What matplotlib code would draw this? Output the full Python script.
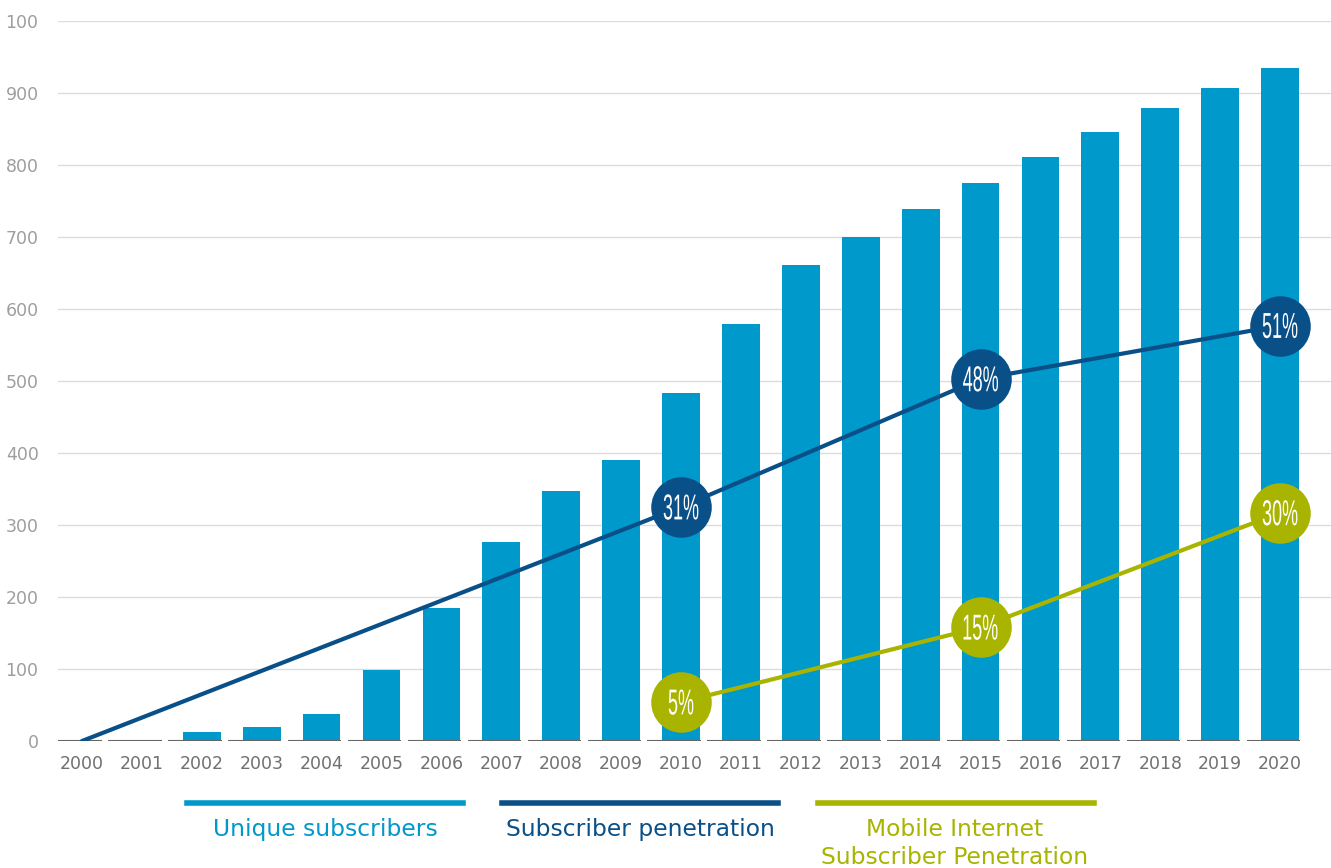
import numpy as np
import matplotlib.pyplot as plt
import matplotlib.transforms as mtransforms
from matplotlib.lines import Line2D
from matplotlib.textpath import TextPath
from matplotlib.patches import PathPatch
from matplotlib.font_manager import FontProperties

# --- Data ---
years = [str(y) for y in range(2000, 2021)]
subscribers = [1, 1, 12, 19, 37, 98, 185, 276, 347, 390, 483,
               579, 661, 700, 739, 775, 811, 846, 879, 907, 935]

# penetration lines (drawn on the chart's own vertical scale)
pen_years = [0, 10, 15, 20]
pen_pos = [0, 325, 503, 577]
pen_labels = [None, "31%", "48%", "51%"]

mob_years = [10, 15, 20]
mob_pos = [54, 158, 317]
mob_labels = ["5%", "15%", "30%"]

yticks = [0, 100, 200, 300, 400, 500, 600, 700, 800, 900, 1000]
ytick_labels = ["0", "100", "200", "300", "400", "500", "600", "700", "800", "900", "100"]

# --- Colours ---
c_bar = "#0099cc"
c_pen = "#0a5088"
c_mob = "#a8b400"

fig = plt.figure(figsize=(13.31, 8.68), dpi=100)
ax = fig.add_axes([0.0436, 0.1463, 0.9564, 0.8295])

x = np.arange(len(years))
ax.bar(x, subscribers, width=0.63, color=c_bar, zorder=2)

# baseline segments under each category
ax.hlines([0] * len(x), x - 0.56, x + 0.33, color="#666666", linewidth=1.5, zorder=3)


def bubble_text(xv, yv, s):
    # condensed label: text path squeezed horizontally
    tp = TextPath((0, 0), s, size=36, prop=FontProperties(family="Liberation Sans"))
    bb = tp.get_extents()
    tr = (mtransforms.Affine2D()
          .translate(-(bb.x0 + bb.x1) / 2, -(bb.y0 + bb.y1) / 2)
          .scale(0.5, 1.0)
          + mtransforms.ScaledTranslation(xv, yv, ax.transData))
    p = PathPatch(tp, transform=tr, facecolor="white", linewidth=0, zorder=6)
    p.set_clip_on(False)
    ax.add_artist(p)


# penetration lines + bubbles
ax.plot(pen_years, pen_pos, color=c_pen, linewidth=3, zorder=4, solid_capstyle="round")
ax.plot(mob_years, mob_pos, color=c_mob, linewidth=3, zorder=4, solid_capstyle="round")

for xi, yi, lab in zip(pen_years, pen_pos, pen_labels):
    if lab:
        ax.scatter(xi, yi, s=1900, color=c_pen, zorder=5, linewidths=0)
        bubble_text(xi, yi, lab)
for xi, yi, lab in zip(mob_years, mob_pos, mob_labels):
    ax.scatter(xi, yi, s=1900, color=c_mob, zorder=5, linewidths=0)
    bubble_text(xi, yi, lab)

# --- Axes styling ---
ax.set_xlim(-0.4, 20.85)
ax.set_ylim(0, 1000)
ax.set_xticks(x)
ax.set_xticklabels(years)
ax.set_yticks(yticks)
ax.set_yticklabels(ytick_labels)
ax.tick_params(axis="both", length=0, labelsize=12.5)
ax.tick_params(axis="y", pad=14, labelcolor="#9e9e9e")
ax.tick_params(axis="x", pad=10, labelcolor="#707070")
for g in yticks[1:]:
    ax.axhline(g, color="#dcdcdc", linewidth=1, zorder=1)
for s in ax.spines.values():
    s.set_visible(False)

# --- Legend below ---
legend_items = [
    (0.1405, 0.3478, 0.2442, c_bar, "Unique subscribers"),
    (0.3772, 0.5845, 0.4809, c_pen, "Subscriber penetration"),
    (0.6146, 0.8219, 0.7175, c_mob, "Mobile Internet\nSubscriber Penetration"),
]
for x0, x1, xc, col, lab in legend_items:
    fig.add_artist(Line2D([x0, x1], [0.0749, 0.0749], color=col, linewidth=4,
                          transform=fig.transFigure))
    fig.text(xc, 0.0575, lab, color=col, fontsize=16.8, ha="center", va="top",
             linespacing=1.3)

fig.savefig("out.png", dpi=100)
